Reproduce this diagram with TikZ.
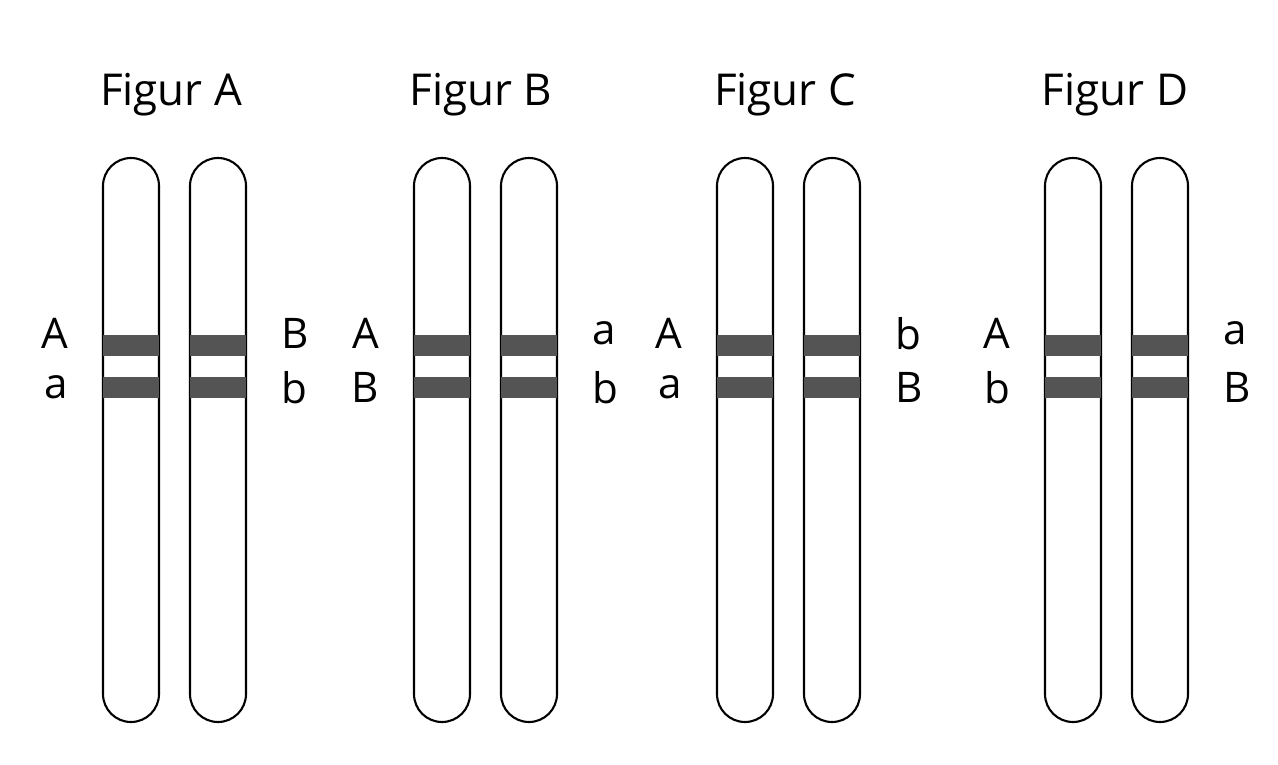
\documentclass[tikz,border=0pt]{standalone}
\usepackage{fontspec}
\setmainfont{Open Sans}
\usetikzlibrary{positioning}
\tikzset{
  chrom/.style={rectangle, rounded corners=0.28cm, minimum width=0.56cm, minimum height=5.64cm, draw=black, line width=0.6pt, inner sep=0pt},
  band/.style={rectangle, fill=black!67, minimum width=0.56cm, minimum height=0.21cm, inner sep=0pt},
  lbl/.style={font=\fontsize{12}{14}\selectfont},
  title/.style={font=\fontsize{12.5}{15}\selectfont}
}
\begin{document}
\begin{tikzpicture}
\useasboundingbox (0,0) rectangle (12.78,-7.65);
% x of left chromosome, title, left labels, right labels
\foreach \n/\x/\t/\la/\lb/\ra/\rb/\cx in {a/1.31/A/A/a/B/b/1.71,b/4.42/B/A/B/a/b/4.81,c/7.45/C/A/a/b/B/7.85,d/10.73/D/A/b/a/B/11.15}{
  \node (ttl\n) [title] at (\cx,-0.95) {Figur \t};
  \node (l\n) [chrom] at (\x,-4.40) {};
  \node (r\n) [chrom] at (\x+0.87,-4.40) {};
  \node (lba\n) [band] at (\x,-3.455) {};
  \node (lbb\n) [band] at (\x,-3.875) {};
  \node (rba\n) [band] at (\x+0.87,-3.455) {};
  \node (rbb\n) [band] at (\x+0.87,-3.875) {};
  \node (lla\n) [lbl, left=0.22cm of lba\n.west, yshift=0.12cm] {\la};
  \node (llb\n) [lbl, left=0.22cm of lbb\n.west] {\lb};
  \node (rla\n) [lbl, right=0.22cm of rba\n.east, yshift=0.12cm] {\ra};
  \node (rlb\n) [lbl, right=0.22cm of rbb\n.east] {\rb};
}
\end{tikzpicture}
\end{document}
